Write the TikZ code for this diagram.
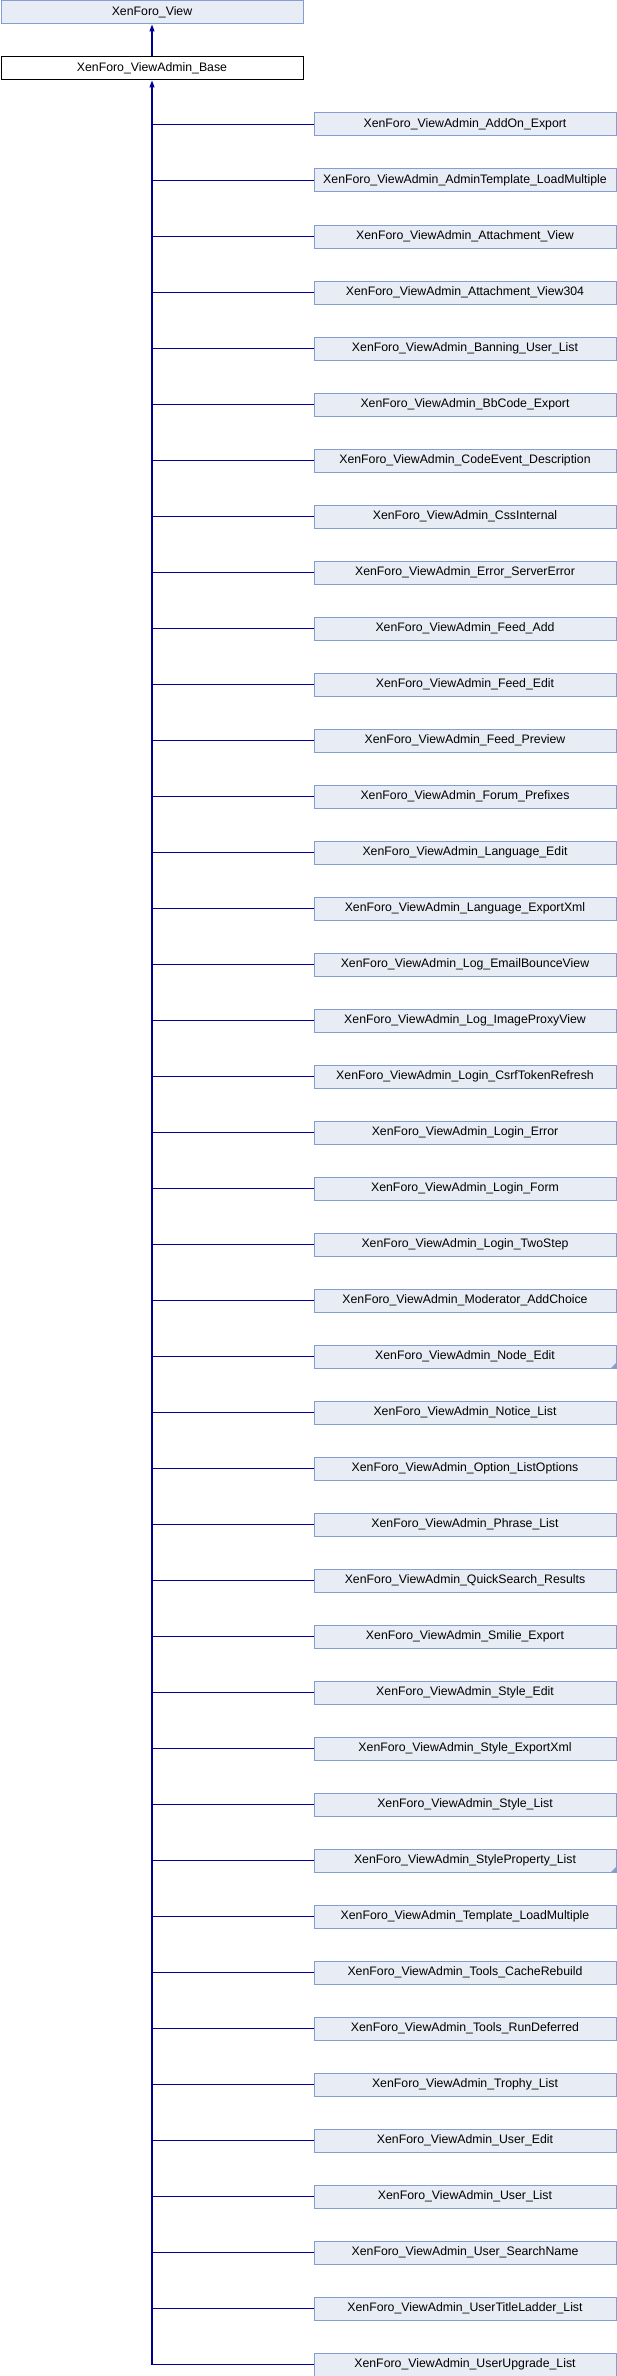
\documentclass[tikz,border=0pt]{standalone}
\usepackage{fontspec}
\setmainfont{Liberation Sans}
\usetikzlibrary{arrows.meta,calc}
\definecolor{boxfill}{RGB}{232,236,245}
\definecolor{boxline}{RGB}{132,158,210}
\definecolor{edgecol}{RGB}{0,0,150}
\tikzset{
  cls/.style={draw=boxline, fill=boxfill, line width=1pt, inner sep=0pt,
    minimum width=302pt, minimum height=23pt, anchor=north west,
    font=\fontsize{12.3}{14}\selectfont},
  basecls/.style={cls, draw=black, fill=white},
  edge/.style={draw=edgecol, line width=1.1pt},
  inh/.style={edge, -{Triangle[width=5pt,length=7pt]}},
  more/.style={fill=boxline, draw=none}
}
\begin{document}
\begin{tikzpicture}[x=1pt,y=1pt]
\useasboundingbox (0,0) rectangle (616,-2376);
\node[cls] (view) at (0.5,-0.5) {XenForo\_View};
\node[basecls] (base) at (0.5,-56.5) {XenForo\_ViewAdmin\_Base};
\draw[inh] (base.north) -- (view.south);
\foreach \name [count=\i] in {AddOn\_Export,AdminTemplate\_LoadMultiple,Attachment\_View,Attachment\_View304,Banning\_User\_List,BbCode\_Export,CodeEvent\_Description,CssInternal,Error\_ServerError,Feed\_Add,Feed\_Edit,Feed\_Preview,Forum\_Prefixes,Language\_Edit,Language\_ExportXml,Log\_EmailBounceView,Log\_ImageProxyView,Login\_CsrfTokenRefresh,Login\_Error,Login\_Form,Login\_TwoStep,Moderator\_AddChoice,Node\_Edit,Notice\_List,Option\_ListOptions,Phrase\_List,QuickSearch\_Results,Smilie\_Export,Style\_Edit,Style\_ExportXml,Style\_List,StyleProperty\_List,Template\_LoadMultiple,Tools\_CacheRebuild,Tools\_RunDeferred,Trophy\_List,User\_Edit,User\_List,User\_SearchName,UserTitleLadder\_List,UserUpgrade\_List}{
  \node[cls] (c\i) at (313.5,{-112.5-56*(\i-1)}) {XenForo\_ViewAdmin\_\name};
  \draw[edge] (c\i.west) -- (c\i.west -| base.south);
}
\coordinate (trunkend) at (c41.west -| base.south);
\draw[inh] (trunkend) -- (base.south);
\fill[more] ($(c23.south east)+(-0.5,0.5)$) -- ++(-5,0) -- ++(5,5) -- cycle;
\fill[more] ($(c32.south east)+(-0.5,0.5)$) -- ++(-5,0) -- ++(5,5) -- cycle;
\end{tikzpicture}
\end{document}
